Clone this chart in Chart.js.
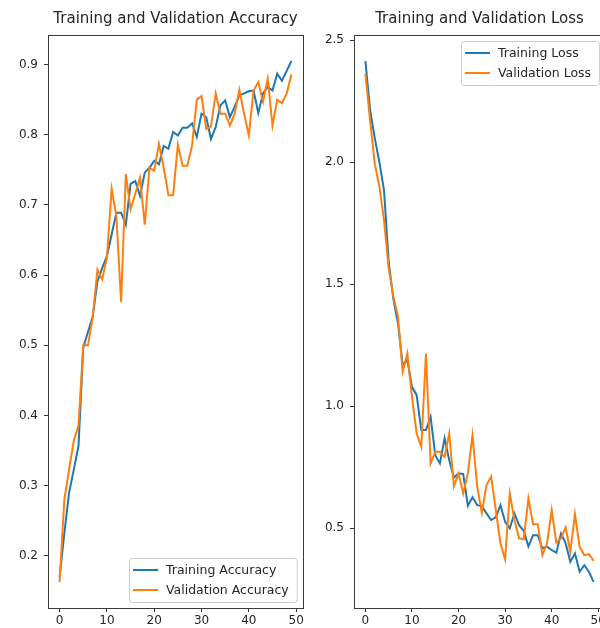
<!DOCTYPE html>
<html>
<head>
<meta charset="utf-8">
<script src="https://cdn.jsdelivr.net/npm/chart.js@4.4.1/dist/chart.umd.min.js"></script>
<style>
  html, body { margin: 0; padding: 0; background: #fff; overflow: hidden; }
  #wrap { position: relative; width: 600px; height: 628px; overflow: hidden; background: #fff; }
  canvas { position: absolute; top: 0; }
  #accChart { left: 0; }
  #lossChart { left: 310px; }
</style>
</head>
<body>
<div id="wrap">
  <canvas id="accChart" width="310" height="628"></canvas>
  <canvas id="lossChart" width="310" height="628"></canvas>
</div>
<script>
// Datos (50 epocas)
const epochs = [0,1,2,3,4,5,6,7,8,9,10,11,12,13,14,15,16,17,18,19,20,21,22,23,24,25,26,27,28,29,30,31,32,33,34,35,36,37,38,39,40,41,42,43,44,45,46,47,48,49];

const trainAcc = [0.170,0.232,0.290,0.323,0.357,0.497,0.519,0.541,0.591,0.610,
                  0.627,0.658,0.689,0.689,0.672,0.730,0.734,0.713,0.746,0.753,
                  0.763,0.758,0.784,0.780,0.804,0.799,0.810,0.810,0.816,0.797,
                  0.830,0.825,0.794,0.811,0.842,0.849,0.825,0.840,0.856,0.859,
                  0.862,0.863,0.831,0.859,0.868,0.863,0.887,0.877,0.891,0.905];

const valAcc = [0.163,0.280,0.323,0.364,0.386,0.500,0.500,0.540,0.608,0.594,
                0.625,0.723,0.684,0.562,0.744,0.694,0.716,0.739,0.672,0.753,
                0.749,0.787,0.753,0.714,0.714,0.786,0.756,0.756,0.785,0.850,
                0.855,0.808,0.812,0.859,0.830,0.830,0.813,0.830,0.864,0.830,
                0.799,0.863,0.875,0.847,0.880,0.813,0.850,0.845,0.859,0.886];

const trainLoss = [2.415,2.215,2.100,2.000,1.885,1.590,1.440,1.339,1.168,1.189,
                   1.079,1.045,0.902,0.902,0.956,0.799,0.765,0.868,0.779,0.707,
                   0.724,0.722,0.592,0.626,0.594,0.590,0.560,0.533,0.544,0.594,
                   0.526,0.499,0.560,0.512,0.489,0.424,0.471,0.471,0.417,0.424,
                   0.410,0.399,0.478,0.437,0.362,0.396,0.321,0.348,0.321,0.279];

const valLoss = [2.363,2.172,1.995,1.900,1.762,1.565,1.450,1.366,1.141,1.216,
                 1.038,0.888,0.833,1.216,0.765,0.813,0.813,0.792,0.888,0.672,
                 0.724,0.642,0.724,0.881,0.672,0.563,0.676,0.711,0.574,0.437,
                 0.372,0.642,0.533,0.458,0.454,0.621,0.516,0.516,0.389,0.437,
                 0.574,0.440,0.458,0.503,0.403,0.557,0.424,0.389,0.393,0.366];

const xTicks = [0,10,20,30,40,50];
const accTicks = [0.2,0.3,0.4,0.5,0.6,0.7,0.8,0.9];
const lossTicks = [0.5,1.0,1.5,2.0,2.5];

const AZUL = '#1f77b4';
const NARANJA = '#ff7f0e';
const TEXTO = '#262626';
const FUENTE = "'DejaVu Sans', sans-serif";

// margen de 5% como en matplotlib
function limites(series) {
    const todos = series.flat();
    const min = Math.min(...todos);
    const max = Math.max(...todos);
    const m = (max - min) * 0.05;
    return { min: min - m, max: max + m };
}

function puntos(valores) {
    return epochs.map((e, i) => ({ x: e, y: valores[i] }));
}

// marco completo del eje + leyenda dentro del area
const marcoYLeyenda = {
    id: 'marcoYLeyenda',
    afterDatasetsDraw(chart, args, opts) {
        const { ctx, chartArea: a } = chart;
        ctx.save();
        ctx.strokeStyle = '#3a3a3a';
        ctx.lineWidth = 1;
        ctx.strokeRect(Math.round(a.left) + 0.5, Math.round(a.top) + 0.5,
                       Math.round(a.right - a.left), Math.round(a.bottom - a.top));

        const fs = 12.5;
        ctx.font = fs + 'px ' + FUENTE;
        const sets = chart.data.datasets;
        const anchoTexto = Math.max(...sets.map(d => ctx.measureText(d.label).width));
        const pad = 5, largo = 25, sep = 8, filaH = 14, esp = 6;
        const w = pad + largo + sep + anchoTexto + pad + 2;
        const h = pad * 2 + sets.length * filaH + (sets.length - 1) * esp;
        const x = Math.round(a.right - 6 - w);
        const y = Math.round(opts.esquina === 'abajo' ? a.bottom - 6 - h : a.top + 6);

        ctx.beginPath();
        ctx.roundRect(x + 0.5, y + 0.5, w, h, 3);
        ctx.fillStyle = 'rgba(255,255,255,0.8)';
        ctx.fill();
        ctx.strokeStyle = '#cccccc';
        ctx.stroke();

        sets.forEach((d, i) => {
            const cy = y + pad + filaH / 2 + i * (filaH + esp);
            ctx.beginPath();
            ctx.moveTo(x + 4, cy);
            ctx.lineTo(x + 4 + largo, cy);
            ctx.strokeStyle = d.borderColor;
            ctx.lineWidth = 2;
            ctx.stroke();
            ctx.fillStyle = TEXTO;
            ctx.textBaseline = 'middle';
            ctx.textAlign = 'left';
            ctx.fillText(d.label, x + 4 + largo + sep, cy + 0.5);
        });
        ctx.restore();
    }
};

function opciones(titulo, limY, yTicks, anchoY, padDer, esquina) {
    const limX = limites([epochs]);
    return {
        responsive: false,
        animation: false,
        layout: { padding: { left: 0, right: padDer, top: 0, bottom: 0 }, autoPadding: false },
        elements: { point: { radius: 0 }, line: { tension: 0, borderWidth: 2 } },
        plugins: {
            legend: { display: false },
            tooltip: { enabled: false },
            title: {
                display: true, text: titulo, fullSize: false, color: TEXTO,
                font: { family: FUENTE, size: 15, weight: 'normal' },
                padding: { top: 10.5, bottom: 6.5 }
            },
            marcoYLeyenda: { esquina: esquina }
        },
        scales: {
            x: {
                type: 'linear', min: limX.min, max: limX.max,
                afterBuildTicks: s => { s.ticks = xTicks.map(v => ({ value: v })); },
                afterFit: s => { s.height = 20; },
                grid: { drawOnChartArea: false, drawTicks: true, tickLength: 4, tickColor: '#333', tickWidth: 1 },
                border: { display: false },
                ticks: { color: TEXTO, font: { family: FUENTE, size: 12 }, padding: 2, maxRotation: 0, autoSkip: false,
                         callback: v => String(v) }
            },
            y: {
                type: 'linear', min: limY.min, max: limY.max,
                afterBuildTicks: s => { s.ticks = yTicks.map(v => ({ value: v })); },
                afterFit: s => { s.width = anchoY; },
                grid: { drawOnChartArea: false, drawTicks: true, tickLength: 4, tickColor: '#333', tickWidth: 1 },
                border: { display: false },
                ticks: { color: TEXTO, font: { family: FUENTE, size: 12 }, padding: 6, autoSkip: false,
                         callback: v => Number(v).toFixed(1) }
            }
        }
    };
}

new Chart(document.getElementById('accChart'), {
    type: 'line',
    data: {
        datasets: [
            { label: 'Training Accuracy', data: puntos(trainAcc), borderColor: AZUL, backgroundColor: AZUL, order: 1 },
            { label: 'Validation Accuracy', data: puntos(valAcc), borderColor: NARANJA, backgroundColor: NARANJA, order: 0 }
        ]
    },
    options: opciones('Training and Validation Accuracy', limites([trainAcc, valAcc]), accTicks, 48, 7, 'abajo'),
    plugins: [marcoYLeyenda]
});

new Chart(document.getElementById('lossChart'), {
    type: 'line',
    data: {
        datasets: [
            { label: 'Training Loss', data: puntos(trainLoss), borderColor: AZUL, backgroundColor: AZUL, order: 1 },
            { label: 'Validation Loss', data: puntos(valLoss), borderColor: NARANJA, backgroundColor: NARANJA, order: 0 }
        ]
    },
    options: opciones('Training and Validation Loss', limites([trainLoss, valLoss]), lossTicks, 44, 15, 'arriba'),
    plugins: [marcoYLeyenda]
});
</script>
</body>
</html>
